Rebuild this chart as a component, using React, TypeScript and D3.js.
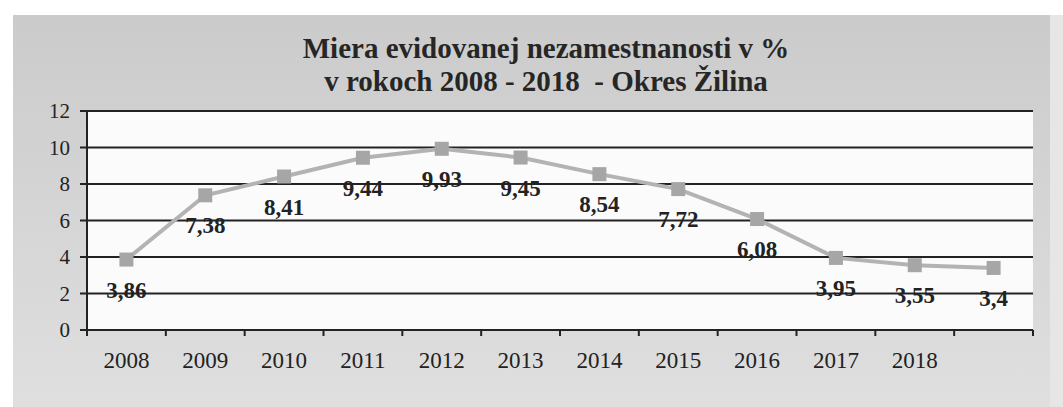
import React from "react";
import { scaleBand, scaleLinear, line } from "d3";

const years = ["2008", "2009", "2010", "2011", "2012", "2013", "2014", "2015", "2016", "2017", "2018", ""];
const rates = [3.86, 7.38, 8.41, 9.44, 9.93, 9.45, 8.54, 7.72, 6.08, 3.95, 3.55, 3.4];
const rateLabels = ["3,86", "7,38", "8,41", "9,44", "9,93", "9,45", "8,54", "7,72", "6,08", "3,95", "3,55", "3,4"];
const yTicks = [0, 2, 4, 6, 8, 10, 12];
const titleLines = ["Miera evidovanej nezamestnanosti v %", "v rokoch 2008 - 2018  - Okres Žilina"];

const W = 1063;
const H = 407;
const plot = { left: 87, right: 1033, top: 111, bottom: 330 };
const serif = "'Liberation Serif', 'Times New Roman', serif";

const App = () => {
  const xScale = scaleBand<number>()
    .domain(years.map((d, i) => i))
    .range([plot.left, plot.right])
    .padding(0);

  const yScale = scaleLinear().domain([0, 12]).range([plot.bottom, plot.top]);

  const cx = (i: number) => (xScale(i) as number) + xScale.bandwidth() / 2;

  const myLine = line<number>()
    .x((v, i) => cx(i))
    .y(v => yScale(v));

  return (
    <svg width={W} height={H} style={{ position: "absolute", left: 0, top: 0 }}>
      <defs>
        <linearGradient id="bg" x1="0" y1="0" x2="0" y2="1">
          <stop offset="0" stopColor="#cbcbcb" />
          <stop offset="1" stopColor="#dfdfdf" />
        </linearGradient>
      </defs>
      <rect x={0} y={0} width={W} height={H} fill="#ffffff" />
      <rect x={13} y={15} width={1037} height={H - 15} fill="url(#bg)" />
      <rect x={1050} y={15} width={13} height={H - 15} fill="#e6e6e6" />

      {titleLines.map((t, i) => (
        <text
          key={i}
          x={546}
          y={58 + i * 33}
          textAnchor="middle"
          fontFamily={serif}
          fontWeight="bold"
          fontSize={29}
          fill="#262626"
          style={{ whiteSpace: "pre" }}
        >
          {t}
        </text>
      ))}

      <rect
        x={plot.left}
        y={plot.top}
        width={plot.right - plot.left}
        height={plot.bottom - plot.top}
        fill="#fbfbfb"
      />

      {/* gridlines + y ticks */}
      {yTicks.map(t => (
        <g key={t}>
          <line
            x1={plot.left - 7}
            x2={plot.right}
            y1={yScale(t)}
            y2={yScale(t)}
            stroke="#222"
            strokeWidth={2}
          />
          <text
            x={plot.left - 17}
            y={yScale(t) + 7}
            textAnchor="end"
            fontFamily={serif}
            fontSize={21}
            fill="#222"
          >
            {t}
          </text>
        </g>
      ))}

      {/* y axis */}
      <line x1={plot.left} x2={plot.left} y1={plot.top} y2={plot.bottom + 6} stroke="#222" strokeWidth={2} />

      {/* x ticks at band edges */}
      {years.map((d, i) => (
        <line
          key={"t" + i}
          x1={(xScale(i) as number) + xScale.bandwidth()}
          x2={(xScale(i) as number) + xScale.bandwidth()}
          y1={plot.bottom}
          y2={plot.bottom + 6}
          stroke="#222"
          strokeWidth={2}
        />
      ))}
      {years.map((d, i) => (
        <text
          key={"l" + i}
          x={cx(i)}
          y={plot.bottom + 38}
          textAnchor="middle"
          fontFamily={serif}
          fontSize={23}
          fill="#222"
        >
          {d}
        </text>
      ))}

      <path d={myLine(rates) || ""} fill="none" stroke="#b3b3b3" strokeWidth={4} />
      {rates.map((v, i) => (
        <rect
          key={"m" + i}
          x={cx(i) - 7}
          y={yScale(v) - 7}
          width={14}
          height={14}
          fill="#a6a6a6"
        />
      ))}
      {rates.map((v, i) => (
        <text
          key={"d" + i}
          x={cx(i)}
          y={yScale(v) + 38}
          textAnchor="middle"
          fontFamily={serif}
          fontWeight="bold"
          fontSize={23}
          fill="#222"
        >
          {rateLabels[i]}
        </text>
      ))}
    </svg>
  );
};

export default App;
